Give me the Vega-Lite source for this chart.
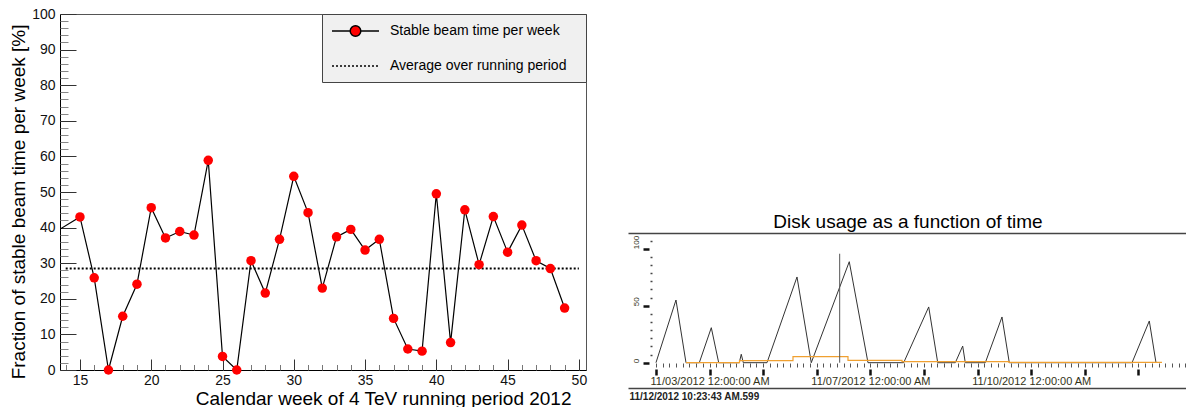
{
  "$schema": "https://vega.github.io/schema/vega-lite/v6.json",
  "padding": {"left": 8, "top": 6, "right": 0, "bottom": 0},
  "background": "white",
  "spacing": 40,
  "resolve": {"legend": {"shape": "independent", "stroke": "independent"}},
  "config": {
    "font": "Liberation Sans",
    "view": {"stroke": null},
    "axis": {"grid": false, "labelFont": "Liberation Sans", "titleFont": "Liberation Sans", "titleFontWeight": "normal"}
  },
  "datasets": {
    "weekly": [
      {"week": 13, "fraction": 38.1}, {"week": 15, "fraction": 43.0}, {"week": 16, "fraction": 25.9},
      {"week": 17, "fraction": 0.0}, {"week": 18, "fraction": 15.1}, {"week": 19, "fraction": 24.1},
      {"week": 20, "fraction": 45.6}, {"week": 21, "fraction": 37.1}, {"week": 22, "fraction": 38.9},
      {"week": 23, "fraction": 37.9}, {"week": 24, "fraction": 58.9}, {"week": 25, "fraction": 3.8},
      {"week": 26, "fraction": 0.0}, {"week": 27, "fraction": 30.7}, {"week": 28, "fraction": 21.6},
      {"week": 29, "fraction": 36.7}, {"week": 30, "fraction": 54.4}, {"week": 31, "fraction": 44.2},
      {"week": 32, "fraction": 23.0}, {"week": 33, "fraction": 37.4}, {"week": 34, "fraction": 39.5},
      {"week": 35, "fraction": 33.7}, {"week": 36, "fraction": 36.7}, {"week": 37, "fraction": 14.5},
      {"week": 38, "fraction": 5.9}, {"week": 39, "fraction": 5.3}, {"week": 40, "fraction": 49.5},
      {"week": 41, "fraction": 7.7}, {"week": 42, "fraction": 45.0}, {"week": 43, "fraction": 29.6},
      {"week": 44, "fraction": 43.1}, {"week": 45, "fraction": 33.1}, {"week": 46, "fraction": 40.7},
      {"week": 47, "fraction": 30.7}, {"week": 48, "fraction": 28.5}, {"week": 49, "fraction": 17.4}
    ],
    "average": [
      {"week": 14, "fraction": 28.5}, {"week": 50, "fraction": 28.5}
    ],
    "series": [
      {"series": "Stable beam time per week"}, {"series": "Average over running period"}
    ],
    "disk": [
      {"time_index": 0.0, "usage": 0}, {"time_index": 0.373, "usage": 55}, {"time_index": 0.56, "usage": 0},
      {"time_index": 0.808, "usage": 0}, {"time_index": 1.032, "usage": 30.7}, {"time_index": 1.17, "usage": 0},
      {"time_index": 1.554, "usage": 0}, {"time_index": 1.591, "usage": 7.4}, {"time_index": 1.629, "usage": 0},
      {"time_index": 2.071, "usage": 0}, {"time_index": 2.631, "usage": 75.2}, {"time_index": 2.897, "usage": 0},
      {"time_index": 3.606, "usage": 88.6}, {"time_index": 3.955, "usage": 0}, {"time_index": 4.621, "usage": 0},
      {"time_index": 5.088, "usage": 48.9}, {"time_index": 5.256, "usage": 0}, {"time_index": 5.584, "usage": 0},
      {"time_index": 5.722, "usage": 14.6}, {"time_index": 5.77, "usage": 0}, {"time_index": 6.144, "usage": 0},
      {"time_index": 6.455, "usage": 40.1}, {"time_index": 6.591, "usage": 0}, {"time_index": 8.881, "usage": 0},
      {"time_index": 9.203, "usage": 36.6}, {"time_index": 9.328, "usage": 0}
    ],
    "reserved": [
      {"time_index": 0.56, "usage": 0}, {"time_index": 1.558, "usage": 1.8}, {"time_index": 2.556, "usage": 5.3},
      {"time_index": 3.582, "usage": 2.1}, {"time_index": 4.59, "usage": 0.9}, {"time_index": 6.586, "usage": 0.3},
      {"time_index": 9.44, "usage": 0.3}
    ],
    "spike": [
      {"time_index": 3.427, "low": 0, "high": 95.6}
    ]
  },
  "hconcat": [
    {
      "width": 526,
      "height": 356,
      "view": {"stroke": "#555", "strokeWidth": 1},
      "resolve": {"axis": {"x": "independent", "y": "independent"}},
      "layer": [
        {
          "data": {"name": "weekly"},
          "mark": {"type": "line", "color": "#000", "strokeWidth": 1.2, "clip": true},
          "encoding": {
            "x": {
              "field": "week", "type": "quantitative",
              "scale": {"domain": [13.6, 50.5], "nice": false, "zero": false},
              "axis": {
                "orient": "bottom", "values": [15, 20, 25, 30, 35, 40, 45, 50],
                "ticks": false, "domain": true, "domainColor": "#000", "domainWidth": 1,
                "labelFontSize": 14, "labelColor": "#111", "labelPadding": 3, "labelFlush": false,
                "title": "Calendar week of 4 TeV running period 2012",
                "titleFontSize": 19, "titleColor": "#000", "titleX": 511, "titleY": 34,
                "titleAlign": "right", "titleBaseline": "alphabetic", "titleAnchor": "end"
              }
            },
            "y": {
              "field": "fraction", "type": "quantitative",
              "scale": {"domain": [0, 100], "nice": false, "zero": false},
              "axis": {
                "orient": "left", "values": [0, 10, 20, 30, 40, 50, 60, 70, 80, 90, 100],
                "ticks": false, "domain": true, "domainColor": "#000", "domainWidth": 1,
                "labelFontSize": 14, "labelColor": "#111", "labelPadding": 5, "labelFlush": false,
                "title": "Fraction of stable beam time per week [%]",
                "titleFontSize": 19, "titleColor": "#000", "titleAngle": 270,
                "titleX": -51, "titleY": 10, "titleAlign": "right", "titleBaseline": "top"
              }
            }
          }
        },
        {
          "data": {"name": "average"},
          "mark": {"type": "line", "color": "#000", "strokeWidth": 2, "strokeDash": [2, 2]},
          "encoding": {
            "x": {
              "field": "week", "type": "quantitative",
              "axis": {
                "orient": "bottom", "values": [14, 15, 16, 17, 18, 19, 20, 21, 22, 23, 24, 25, 26, 27, 28, 29, 30, 31, 32, 33, 34, 35, 36, 37, 38, 39, 40, 41, 42, 43, 44, 45, 46, 47, 48, 49, 50],
                "labels": false, "domain": false, "ticks": true, "tickSize": -5.5, "tickColor": "#777", "tickWidth": 1, "title": null
              }
            },
            "y": {
              "field": "fraction", "type": "quantitative",
              "axis": {
                "orient": "left", "values": [0, 2, 4, 6, 8, 10, 12, 14, 16, 18, 20, 22, 24, 26, 28, 30, 32, 34, 36, 38, 40, 42, 44, 46, 48, 50, 52, 54, 56, 58, 60, 62, 64, 66, 68, 70, 72, 74, 76, 78, 80, 82, 84, 86, 88, 90, 92, 94, 96, 98, 100],
                "labels": false, "domain": false, "ticks": true, "tickSize": -8, "tickColor": "#888", "tickWidth": 1, "title": null
              }
            }
          }
        },
        {
          "data": {"name": "weekly"},
          "transform": [{"filter": "datum.week >= 14"}],
          "mark": {"type": "point", "shape": "circle", "filled": true, "color": "#ff0000", "size": 90, "opacity": 1},
          "encoding": {
            "x": {
              "field": "week", "type": "quantitative",
              "axis": {
                "orient": "bottom", "values": [15, 20, 25, 30, 35, 40, 45, 50],
                "labels": false, "domain": false, "ticks": true, "tickSize": -11, "tickColor": "#333", "tickWidth": 1, "title": null
              }
            },
            "y": {
              "field": "fraction", "type": "quantitative",
              "axis": {
                "orient": "left", "values": [0, 10, 20, 30, 40, 50, 60, 70, 80, 90, 100],
                "labels": false, "domain": false, "ticks": true, "tickSize": -16, "tickColor": "#333", "tickWidth": 1, "title": null
              }
            }
          }
        },
        {
          "data": {"name": "series"},
          "mark": {"type": "point", "filled": true, "opacity": 0, "size": 196},
          "encoding": {
            "fill": {"value": "#ff0000"},
            "stroke": {
              "field": "series", "type": "nominal",
              "scale": {
                "domain": ["Stable beam time per week", "Average over running period"],
                "range": ["#000000", "#000000"]
              },
              "legend": {"title": "\u00a0"}
            },
            "shape": {
              "field": "series", "type": "nominal",
              "scale": {
                "domain": ["Stable beam time per week", "Average over running period"],
                "range": [
                  "M-3.357,0H-0.757M0.757,0H3.357M-0.757,0A0.757,0.757,0,1,0,0.757,0A0.757,0.757,0,1,0,-0.757,0Z",
                  "M-3.357,0H-3.071M-2.786,0H-2.5M-2.214,0H-1.929M-1.643,0H-1.357M-1.071,0H-0.786M-0.5,0H-0.214M0.071,0H0.357M0.643,0H0.929M1.214,0H1.5M1.786,0H2.071M2.357,0H2.643M2.929,0H3.214"
                ]
              },
              "legend": {
                "title": "\u00a0", "titleOrient": "right", "titlePadding": 11, "titleFontSize": 1,
                "orient": "top-right", "offset": 0, "padding": 9,
                "fillColor": "#f0f0f0", "strokeColor": "#444", "cornerRadius": 0,
                "labelFont": "Liberation Sans", "labelFontSize": 14, "labelColor": "#000",
                "labelOffset": 26.5, "symbolOffset": 16.5, "symbolSize": 196, "rowPadding": 18,
                "symbolOpacity": 1, "symbolFillColor": "#ff0000", "symbolStrokeColor": "#000000", "symbolStrokeWidth": 1.5,
                "labelLimit": 400
              }
            }
          }
        }
      ]
    },
    {
      "width": 560,
      "height": 374,
      "view": {"stroke": null},
      "title": {
        "text": "Disk usage as a function of time", "font": "Liberation Sans", "fontSize": 19,
        "fontWeight": "normal", "color": "#000", "anchor": "middle", "offset": 0,
        "baseline": "alphabetic", "dy": 233
      },
      "resolve": {"axis": {"x": "independent", "y": "independent"}},
      "layer": [
        {
          "data": {"name": "disk"},
          "mark": {"type": "line", "color": "#333", "strokeWidth": 1},
          "encoding": {
            "x": {
              "field": "time_index", "type": "quantitative",
              "scale": {"domain": [-0.522, 9.925], "nice": false, "zero": false},
              "axis": {
                "orient": "bottom", "offset": 0, "values": [1, 4, 7],
                "labelExpr": "datum.value == 1 ? '11/03/2012 12:00:00 AM' : datum.value == 4 ? '11/07/2012 12:00:00 AM' : '11/10/2012 12:00:00 AM'",
                "ticks": false, "domain": true, "domainColor": "#444", "domainWidth": 1.5,
                "labelFontSize": 11, "labelColor": "#333318", "labelPadding": -4, "labelBaseline": "alphabetic",
                "labelFlush": false, "labelOverlap": false,
                "title": "11/12/2012 10:23:43 AM.599", "titleFontSize": 10, "titleFontWeight": "bold",
                "titleColor": "#222", "titleX": 1, "titleY": 11, "titleAlign": "left", "titleAnchor": "start",
                "titleBaseline": "alphabetic"
              }
            },
            "y": {
              "field": "usage", "type": "quantitative",
              "scale": {"domain": [-22.2, 305.9], "nice": false, "zero": false},
              "axis": {
                "orient": "left", "offset": -21, "values": [0, 50, 100], "domain": false,
                "tickSize": 6, "tickWidth": 2.5, "tickColor": "#111",
                "labelAngle": 270, "labelAlign": "left", "labelBaseline": "alphabetic", "labelPadding": 5,
                "labelFontSize": 8, "labelColor": "#333318", "labelFlush": false, "title": null
              }
            }
          }
        },
        {
          "data": {"name": "reserved"},
          "mark": {"type": "line", "interpolate": "step-after", "color": "#f0a030", "strokeWidth": 1.2},
          "encoding": {
            "x": {
              "field": "time_index", "type": "quantitative",
              "axis": {
                "orient": "bottom", "offset": -19, "values": [0, 1, 2, 3, 4, 5, 6, 7, 8, 9],
                "labels": false, "domain": false, "tickSize": 6, "tickWidth": 2.5, "tickColor": "#111", "title": null
              }
            },
            "y": {
              "field": "usage", "type": "quantitative",
              "axis": {
                "orient": "left", "offset": -24,
                "values": [7.143, 14.286, 21.429, 28.571, 35.714, 42.857, 57.143, 64.286, 71.429, 78.571, 85.714, 92.857, 107.143],
                "labels": false, "domain": false, "tickSize": 2, "tickWidth": 1.5, "tickColor": "#444", "title": null
              }
            }
          }
        },
        {
          "data": {"name": "spike"},
          "mark": {"type": "rule", "color": "#555", "strokeWidth": 1},
          "encoding": {
            "x": {
              "field": "time_index", "type": "quantitative",
              "axis": {
                "orient": "bottom", "offset": -25,
                "values": [0, 0.125, 0.25, 0.375, 0.5, 0.625, 0.75, 0.875, 1, 1.125, 1.25, 1.375, 1.5, 1.625, 1.75, 1.875, 2, 2.125, 2.25, 2.375, 2.5, 2.625, 2.75, 2.875, 3, 3.125, 3.25, 3.375, 3.5, 3.625, 3.75, 3.875, 4, 4.125, 4.25, 4.375, 4.5, 4.625, 4.75, 4.875, 5, 5.125, 5.25, 5.375, 5.5, 5.625, 5.75, 5.875, 6, 6.125, 6.25, 6.375, 6.5, 6.625, 6.75, 6.875, 7, 7.125, 7.25, 7.375, 7.5, 7.625, 7.75, 7.875, 8, 8.125, 8.25, 8.375, 8.5, 8.625, 8.75, 8.875, 9, 9.125, 9.25, 9.375, 9.5, 9.625, 9.75, 9.875],
                "labels": false, "domain": false, "tickSize": 4, "tickWidth": 1, "tickColor": "#555", "title": null
              }
            },
            "y": {"field": "low", "type": "quantitative", "axis": null},
            "y2": {"field": "high"}
          }
        },
        {
          "data": {"name": "disk"},
          "transform": [{"filter": "false"}],
          "mark": {"type": "point"},
          "encoding": {
            "x": {
              "field": "time_index", "type": "quantitative",
              "axis": {
                "orient": "top", "offset": -219, "domain": true, "domainColor": "#444", "domainWidth": 1.5,
                "ticks": false, "labels": false, "title": null
              }
            },
            "y": {"field": "usage", "type": "quantitative", "axis": null}
          }
        }
      ]
    }
  ]
}
